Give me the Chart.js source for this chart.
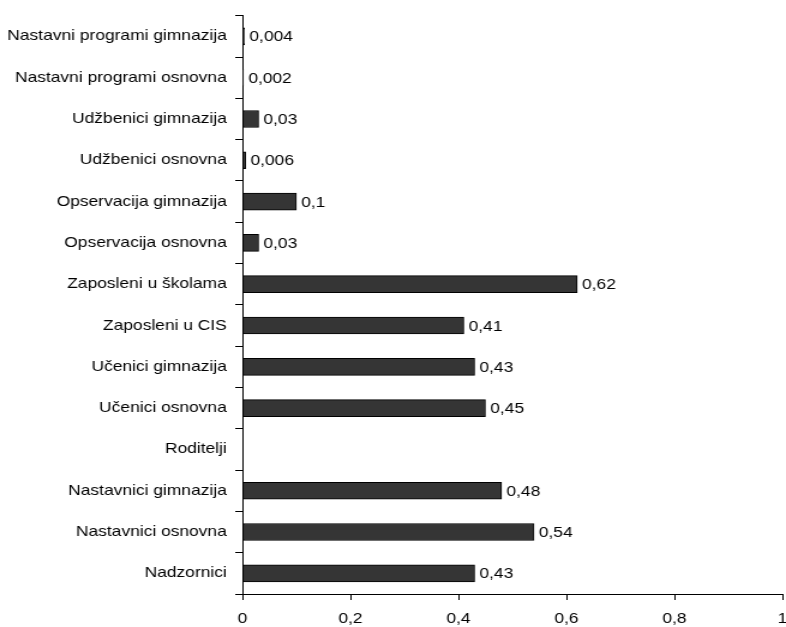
<!DOCTYPE html>
<html>
<head>
<meta charset="utf-8">
<title>Bar chart</title>
<script src="https://cdn.jsdelivr.net/npm/chart.js@4.4.1/dist/chart.umd.min.js"></script>
<style>
    html, body { margin: 0; padding: 0; background: #fff; }
    #chart { display: block; width: 786px; height: 627px; }
</style>
</head>
<body>
<canvas id="chart" width="655" height="627" style="width:786px;height:627px"></canvas>
<script>
const categories = [
    'Nastavni programi gimnazija',
    'Nastavni programi osnovna',
    'Udžbenici gimnazija',
    'Udžbenici osnovna',
    'Opservacija gimnazija',
    'Opservacija osnovna',
    'Zaposleni u školama',
    'Zaposleni u CIS',
    'Učenici gimnazija',
    'Učenici osnovna',
    'Roditelji',
    'Nastavnici gimnazija',
    'Nastavnici osnovna',
    'Nadzornici'
];

const values = [0.004, 0.002, 0.03, 0.006, 0.1, 0.03, 0.62, 0.41, 0.43, 0.45, null, 0.48, 0.54, 0.43];

const xTicks = [0, 0.2, 0.4, 0.6, 0.8, 1];

const FONT = '"Liberation Sans", Arial, sans-serif';

function decimalComma(v) {
    return String(Math.round(v * 1000) / 1000).replace('.', ',');
}

// Value written just past the end of each bar
const valueLabels = {
    id: 'valueLabels',
    afterDatasetsDraw(chart) {
        const ctx = chart.ctx;
        const meta = chart.getDatasetMeta(0);
        ctx.save();
        ctx.font = '14.5px ' + FONT;
        ctx.fillStyle = '#000';
        ctx.textAlign = 'left';
        ctx.textBaseline = 'middle';
        meta.data.forEach((bar, i) => {
            if (values[i] === null) return;
            ctx.fillText(decimalComma(values[i]), bar.x + 4, bar.y + 1);
        });
        ctx.restore();
    }
};

const ctx = document.getElementById('chart').getContext('2d');
new Chart(ctx, {
    type: 'bar',
    data: {
        labels: categories,
        datasets: [{
            data: values,
            backgroundColor: '#353535',
            borderColor: '#000',
            borderWidth: 1,
            borderSkipped: false,
            barThickness: 17
        }]
    },
    options: {
        indexAxis: 'y',
        responsive: false,
        animation: false,
        layout: {
            padding: { top: 14, right: 3, bottom: 0, left: 0 }
        },
        scales: {
            x: {
                min: 0,
                max: 1,
                afterFit(scale) {
                    scale.height = 33;
                    scale.paddingLeft = 0;
                    scale.paddingRight = 0;
                },
                afterBuildTicks(scale) {
                    scale.ticks = xTicks.map(v => ({ value: v }));
                },
                border: { display: true, color: '#000', width: 1 },
                grid: {
                    drawOnChartArea: false,
                    drawTicks: true,
                    tickLength: 6,
                    color: '#000'
                },
                ticks: {
                    padding: 10,
                    color: '#000',
                    font: { size: 14.5, family: FONT },
                    maxRotation: 0,
                    callback: v => decimalComma(v)
                }
            },
            y: {
                afterFit(scale) { scale.width = 202; },
                border: { display: true, color: '#000', width: 1 },
                grid: {
                    offset: true,
                    drawOnChartArea: false,
                    drawTicks: true,
                    tickLength: 6,
                    color: '#000'
                },
                ticks: {
                    padding: 7,
                    color: '#000',
                    font: { size: 14.5, family: FONT },
                    autoSkip: false
                }
            }
        },
        plugins: {
            legend: { display: false },
            tooltip: { enabled: false }
        }
    },
    plugins: [valueLabels]
});
</script>
</body>
</html>
